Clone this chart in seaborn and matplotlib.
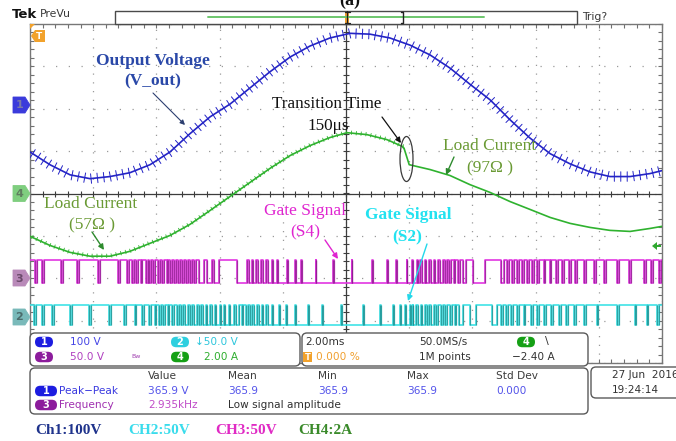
import numpy as np
import matplotlib
matplotlib.use("Agg")
import matplotlib.pyplot as plt
import seaborn as sns
from matplotlib import patheffects as pe
from matplotlib.patches import FancyBboxPatch, Polygon, Ellipse, Rectangle
from matplotlib.ticker import MultipleLocator

sns.set_style("white")
plt.rcParams["font.family"] = ["DejaVu Sans"]
SERIF = ["Liberation Serif", "DejaVu Serif"]

W, H = 676, 441

# vertical scale (units / division) and ground-marker position (divisions)
CH1_SCALE, CH1_POS = 100.0, 2.09    # V/div, output voltage
CH2_SCALE, CH2_POS = 50.0, -2.90    # V/div, gate S2
CH3_SCALE, CH3_POS = 50.0, -1.98    # V/div, gate S4
CH4_SCALE, CH4_POS = 2.0, 0.0       # A/div, load current

# Ch1: output voltage (ms, V)
vout_t = [-10.0, -9.37, -8.73, -8.10, -7.47, -6.84, -6.20, -5.57, -4.94, -4.30,
          -3.67, -3.04, -2.41, -1.77, -1.14, -0.51, 0.13, 0.76, 1.39, 2.03,
          2.66, 3.29, 3.92, 4.56, 5.19, 5.82, 6.46, 7.09, 7.72, 8.35,
          8.99, 9.62, 10.0]
vout_v = [-111, -141, -165, -174, -169, -160, -141, -111, -68, -28,
          2, 40, 78, 113, 139, 158, 169, 167, 158, 141,
          118, 87, 49, 12, -35, -78, -115, -139, -158, -169,
          -169, -162, -155]

# Ch4: load current (ms, A); load steps from 57 ohm to 97 ohm
iload_t = [-10.0, -9.37, -8.73, -8.10, -7.47, -6.84, -6.20, -5.57, -4.94, -4.30,
           -3.67, -3.04, -2.41, -1.77, -1.14, -0.51, 0.03, 0.66, 1.30, 1.80,
           1.84, 2.00, 2.66, 3.29, 3.92, 4.56, 5.19, 5.82, 6.46, 7.09,
           7.72, 8.35, 8.99, 9.62, 10.0]
iload_a = [-2.02, -2.45, -2.78, -2.96, -2.96, -2.73, -2.35, -1.98, -1.46, -0.80,
           -0.14, 0.52, 1.18, 1.79, 2.26, 2.64, 2.87, 2.78, 2.54, 2.21,
           2.12, 1.36, 1.13, 0.85, 0.42, 0.05, -0.38, -0.75, -1.13, -1.41,
           -1.60, -1.74, -1.79, -1.65, -1.55]
STEP_INDEX = 21   # first sample after the load step

# gate drive levels (V)
s4_hi, s4_lo = 20.0, -7.0
s2_hi, s2_lo = 13.0, -10.0

# S4 (Ch3): spans where the gate idles low, short off-pulses, short on-pulses (ms)
s4_low_spans = [(-4.65, -4.49), (-4.41, -4.24), (-4.19, -4.02), (-3.45, 3.80),
                (4.02, 4.40), (4.91, 5.00), (5.09, 5.16)]
s4_dips = [(-9.81, .04), (-9.59, .04), (-8.99, .04), (-8.48, .04), (-7.82, .04),
           (-7.18, .04), (-6.90, .04), (-6.74, .04), (-6.61, .04), (-6.46, .04),
           (-6.30, .04), (-6.20, .04), (-6.08, .04), (-5.92, .04), (-5.79, .04),
           (-5.66, .04), (-5.54, .05), (-5.41, .06), (-5.28, .06), (-5.16, .07),
           (-5.03, .08), (-4.91, .08), (-4.78, .09),
           (5.28, .07), (5.44, .06), (5.60, .06), (5.76, .05), (5.92, .05),
           (6.08, .04), (6.27, .04), (6.46, .04), (6.68, .04), (6.87, .04),
           (7.09, .04), (7.28, .04), (7.56, .04), (7.88, .04), (8.20, .04),
           (8.61, .04), (8.99, .04), (9.46, .04), (9.68, .04), (9.94, .04)]
s4_spikes = [(-3.10, .06), (-2.96, .05), (-2.82, .04), (-2.66, .04), (-2.50, .035),
             (-2.34, .03), (-2.18, .03), (-1.84, .03), (-1.61, .03), (-1.42, .03),
             (-0.95, .03), (-0.41, .03), (0.19, .03), (0.85, .03), (1.30, .03),
             (1.61, .03), (1.93, .03), (2.09, .03), (2.25, .03),
             (2.37, .04), (2.52, .045), (2.66, .05), (2.80, .06), (2.94, .065),
             (3.09, .07), (3.23, .075), (3.37, .08), (3.51, .09), (3.66, .095)]

# S2 (Ch2)
s2_low_spans = [(-3.48, 3.70), (3.92, 4.11), (4.62, 4.78)]
s2_dips = [(-9.84, .04), (-9.59, .04), (-9.27, .04), (-8.70, .04), (-8.10, .04),
           (-7.47, .04), (-6.99, .04), (-6.65, .04), (-6.42, .04), (-6.20, .04),
           (-6.04, .04), (-5.89, .04),
           (-5.76, .04), (-5.62, .05), (-5.47, .05), (-5.33, .06), (-5.19, .06),
           (-5.05, .07), (-4.91, .07), (-4.76, .08), (-4.62, .08), (-4.48, .09),
           (-4.34, .09), (-4.19, .10), (-4.05, .10), (-3.91, .11), (-3.77, .11),
           (-3.62, .12),
           (4.94, .08), (5.09, .065), (5.25, .05), (5.44, .045), (5.66, .04),
           (5.89, .04), (6.08, .04), (6.30, .04), (6.52, .04), (6.77, .04),
           (6.99, .04), (7.25, .04), (7.56, .04), (7.97, .04), (8.61, .04),
           (9.15, .04), (9.53, .04), (9.87, .04)]
s2_spikes = [(-3.35, .09), (-3.21, .08), (-3.07, .07), (-2.93, .06), (-2.78, .05),
             (-2.64, .04), (-2.50, .04), (-2.34, .03), (-2.09, .03), (-1.87, .03),
             (-1.61, .03), (-1.20, .03), (-0.73, .03), (-0.13, .03), (0.54, .03),
             (1.08, .03), (1.49, .03), (1.71, .03), (1.87, .03), (2.03, .03),
             (2.12, .03),
             (2.25, .04), (2.39, .045), (2.53, .05), (2.67, .06), (2.82, .06),
             (2.96, .07), (3.10, .08), (3.24, .08), (3.39, .09), (3.53, .10)]


def gate_trace(low_spans, dips, spikes, hi, lo):
    """Step vertices of a gate waveform built from its idle spans and pulses."""
    dip_iv = [(c - w / 2, c + w / 2) for c, w in dips]
    spk_iv = [(c - w / 2, c + w / 2) for c, w in spikes]
    edges = {-10.0, 10.0}
    for a, b in low_spans + dip_iv + spk_iv:
        edges.update((a, b))
    edges = sorted(e for e in edges if -10.0 <= e <= 10.0)

    def inside(t, spans):
        return any(a < t < b for a, b in spans)

    ts, ys, flips, prev = [], [], [], None
    for a, b in zip(edges[:-1], edges[1:]):
        m = 0.5 * (a + b)
        if inside(m, low_spans):
            lvl = hi if inside(m, spk_iv) else lo
        else:
            lvl = lo if inside(m, dip_iv) else hi
        if prev is not None and lvl != prev:
            flips.append(a)
        ts += [a, b]
        ys += [lvl, lvl]
        prev = lvl
    return ts, ys, flips


fig = plt.figure(figsize=(W / 100, H / 100), dpi=100)
fig.patch.set_facecolor("white")

# graticule: 10 x 8 divisions, 2 ms/div
ax = fig.add_axes([30 / W, 1 - 363 / H, 632 / W, 339 / H])
ax.set_xlim(-10, 10)
ax.set_ylim(-4, 4)
ax.xaxis.set_major_locator(MultipleLocator(2))
ax.xaxis.set_minor_locator(MultipleLocator(0.4))
ax.yaxis.set_major_locator(MultipleLocator(1))
ax.yaxis.set_minor_locator(MultipleLocator(0.2))
ax.tick_params(which="both", direction="in", top=True, right=True, bottom=True,
               left=True, length=3.2, width=0.8, color="#707070",
               labelbottom=False, labelleft=False)
for s in ax.spines.values():
    s.set_color("#777777")
    s.set_linewidth(1.0)
ax.set_axisbelow(True)
ax.grid(axis="x", which="major", color="#9a9a9a", lw=0.9, linestyle=(0, (1, 6.0)))
ax.grid(axis="y", which="major", color="#9a9a9a", lw=0.9, linestyle=(0, (1, 9.2)))
ax.axhline(0, color="#3c3c3c", lw=0.9, zorder=1)
ax.axvline(0, color="#3c3c3c", lw=0.9, zorder=1)
ax.plot(np.arange(-10, 10.01, 0.4), np.zeros(51), ls="none", marker="|",
        ms=4.5, mew=0.8, color="#3c3c3c", zorder=1)
ax.plot(np.zeros(41), np.arange(-4, 4.01, 0.2), ls="none", marker="_",
        ms=4.5, mew=0.8, color="#3c3c3c", zorder=1)

# gate signals
GATES = [
    (s4_low_spans, s4_dips, s4_spikes, s4_hi, s4_lo, CH3_SCALE, CH3_POS, "#e236e2", "#8e1e8e"),
    (s2_low_spans, s2_dips, s2_spikes, s2_hi, s2_lo, CH2_SCALE, CH2_POS, "#3fe3e6", "#1e8c8c"),
]
for spans, dips, spikes, hi, lo, scale, pos, col, dark in GATES:
    ts, ys, flips = gate_trace(spans, dips, spikes, hi, lo)
    yd = [v / scale + pos for v in ys]
    sns.lineplot(x=ts, y=yd, ax=ax, sort=False, estimator=None, color=col,
                 lw=1.2, zorder=3)
    ax.vlines(flips, lo / scale + pos, hi / scale + pos, colors=dark, lw=0.9,
              alpha=0.75, zorder=3.5)

# load current
i_div = [a / CH4_SCALE + CH4_POS for a in iload_a]
ripple_small = [pe.TickedStroke(spacing=3.5, angle=90, length=0.45, linewidth=0.6),
                pe.TickedStroke(spacing=3.5, angle=-90, length=0.3, linewidth=0.6),
                pe.Normal()]
sns.lineplot(x=iload_t[:STEP_INDEX], y=i_div[:STEP_INDEX], ax=ax, sort=False,
             estimator=None, color="#2fb22f", lw=1.2, zorder=4,
             path_effects=ripple_small)
sns.lineplot(x=iload_t[STEP_INDEX - 1:], y=i_div[STEP_INDEX - 1:], ax=ax, sort=False,
             estimator=None, color="#2fb22f", lw=1.2, zorder=4)

# output voltage
v_div = [v / CH1_SCALE + CH1_POS for v in vout_v]
ripple = [pe.TickedStroke(spacing=4.6, angle=90, length=0.75, linewidth=0.7),
          pe.TickedStroke(spacing=4.6, angle=-90, length=0.75, linewidth=0.7),
          pe.Normal()]
sns.lineplot(x=vout_t, y=v_div, ax=ax, sort=False, estimator=None,
             color="#2424c6", lw=1.2, zorder=5, path_effects=ripple)
ax.set_xlabel("")
ax.set_ylabel("")

# ---------- screen furniture drawn in pixel coordinates ----------
ov = fig.add_axes([0, 0, 1, 1], zorder=10)
ov.set_xlim(0, W)
ov.set_ylim(H, 0)
ov.axis("off")


def txt(x, y, s, color="#333333", size=7.6, ha="left", va="center", **kw):
    ov.text(x, y, s, color=color, fontsize=size, ha=ha, va=va, **kw)


def pill(cx, cy, label, color, w=18, h=10.5):
    ov.add_patch(FancyBboxPatch((cx - w / 2, cy - h / 2), w, h,
                                boxstyle=f"round,pad=0,rounding_size={h / 2}",
                                fc=color, ec="none"))
    txt(cx, cy + 0.3, label, color="white", size=7, ha="center", fontweight="bold")


def panel(x0, y0, x1, y1):
    ov.add_patch(FancyBboxPatch((x0, y0), x1 - x0, y1 - y0,
                                boxstyle="round,pad=0,rounding_size=5",
                                fc="white", ec="#5a5a5a", lw=1.0))


def flag(y, label, fc, tc):
    ov.add_patch(Polygon([(13, y - 8), (25, y - 8), (30, y), (25, y + 8), (13, y + 8)],
                         closed=True, fc=fc, ec=fc, lw=0.6))
    txt(19.5, y + 0.5, label, color=tc, size=8, ha="center", fontweight="bold")


# header
txt(12, 14, "Tek", color="#111111", size=9.5, fontweight="bold")
txt(40, 14, "PreVu", color="#3a3a3a", size=7.8)
ov.add_patch(Rectangle((115, 11), 462, 13, fc="white", ec="#4a4a4a", lw=1.0))
ov.plot([208, 484], [17, 17], color="#6cc66c", lw=1.4)
ov.add_patch(Rectangle((345, 12), 4, 11, fc="#f0a030", ec="none"))
ov.plot([347, 347], [11, 23], color="#222222", lw=0.9)
ov.plot([344.5, 349.5], [12, 12], color="#222222", lw=0.9)
ov.plot([344.5, 349.5], [22.5, 22.5], color="#222222", lw=0.9)
ov.plot([400.5, 403, 403, 400.5], [11.5, 11.5, 22.5, 22.5], color="#222222", lw=1.0)
txt(582, 17, "Trig?", color="#3a3a3a", size=7.8)
ov.text(350, 5, "(a)", fontsize=13, fontweight="bold", family=SERIF,
        ha="center", va="baseline", color="#111111")

# channel ground markers and trigger markers
ov.add_patch(Polygon([(31, 36), (35, 30), (45, 30), (45, 42), (35, 42)], closed=True,
                     fc="#f2a22c", ec="none"))
txt(39.5, 36.5, "T", color="white", size=6.5, ha="center", fontweight="bold")
ov.add_patch(Polygon([(30, 24), (35, 24), (30, 29)], closed=True, fc="#f2a22c", ec="none"))
flag(105, "1", "#3b3bdb", "#7a7aa8")
flag(193.5, "4", "#7fce7f", "#5f7d5f")
flag(278, "3", "#b98ab9", "#6b4b6b")
flag(317, "2", "#79b9b9", "#4b6b6b")
ov.add_patch(Polygon([(652, 246), (657, 242), (657, 245), (661, 245), (661, 247),
                      (657, 247), (657, 250)], closed=True, fc="#2fa82f", ec="none"))

# annotations
SER = dict(family=SERIF, ha="center", va="center")
ov.text(153, 61, "Output Voltage", fontsize=12.5, fontweight="bold", color="#2a48a8", **SER)
ov.text(153, 81, "(V_out)", fontsize=12.5, fontweight="bold", color="#2a48a8", **SER)
ov.annotate("", xy=(185, 125), xytext=(153, 93),
            arrowprops=dict(arrowstyle="-|>", color="#2c3e70", lw=0.8,
                            mutation_scale=7, shrinkA=0, shrinkB=0))
ov.text(327, 104, "Transition Time", fontsize=12.3, color="#111111", **SER)
ov.text(328, 126, "150μs", fontsize=12.3, color="#111111", **SER)
ov.annotate("", xy=(401, 143), xytext=(382, 117),
            arrowprops=dict(arrowstyle="-|>", color="#111111", lw=0.9,
                            mutation_scale=8, shrinkA=0, shrinkB=0))
ov.add_patch(Ellipse((406.5, 159), 13, 45, fc="none", ec="#3a3a3a", lw=0.9))

LOAD_C = "#6a9a34"
ov.text(490, 146, "Load Current", fontsize=12.5, color=LOAD_C, **SER)
ov.text(490, 168, "(97Ω )", fontsize=12.5, color=LOAD_C, **SER)
ov.annotate("", xy=(446, 175), xytext=(454, 157),
            arrowprops=dict(arrowstyle="-|>", color="#2e8b2e", lw=1.0,
                            mutation_scale=8, shrinkA=0, shrinkB=0))
ov.text(91, 204, "Load Current", fontsize=12.5, color=LOAD_C, **SER)
ov.text(92, 225, "(57Ω )", fontsize=12.5, color=LOAD_C, **SER)
ov.annotate("", xy=(104, 250), xytext=(92, 232),
            arrowprops=dict(arrowstyle="-|>", color="#2e8b2e", lw=1.0,
                            mutation_scale=8, shrinkA=0, shrinkB=0))
ov.text(305, 211, "Gate Signal", fontsize=12.5, color="#e024d0", **SER)
ov.text(305, 232, "(S4)", fontsize=12.5, color="#e024d0", **SER)
ov.annotate("", xy=(338, 259), xytext=(325, 240),
            arrowprops=dict(arrowstyle="-|>", color="#e024d0", lw=1.0,
                            mutation_scale=8, shrinkA=0, shrinkB=0))
ov.text(408, 215, "Gate Signal", fontsize=12.5, fontweight="bold", color="#22e2f0", **SER)
ov.text(407, 237, "(S2)", fontsize=12.5, fontweight="bold", color="#22e2f0", **SER)
ov.annotate("", xy=(408, 301), xytext=(427, 244),
            arrowprops=dict(arrowstyle="-|>", color="#22d8ea", lw=1.0,
                            mutation_scale=8, shrinkA=0, shrinkB=0))

# channel settings panel
panel(30, 333, 300, 366)
pill(44, 342, "1", "#1c1ce0")
txt(70, 342, "100 V", color="#4646e6")
pill(180, 342, "2", "#2ecfdf")
txt(195, 342, "↓50.0 V", color="#2ec6dc")
pill(44, 357, "3", "#8c1c9c")
txt(70, 357, "50.0 V", color="#b040c0")
txt(131, 357, "Bw", color="#a040b0", size=4.5)
pill(180, 357, "4", "#15a015")
txt(204, 357, "2.00 A", color="#2eae2e")

# timebase / trigger panel
panel(302, 333, 588, 366)
txt(305, 342, "2.00ms")
txt(419, 342, "50.0MS/s")
pill(526, 342, "4", "#15a015")
txt(545, 341, "\\", size=8)
ov.add_patch(Rectangle((303, 352), 9, 10, fc="#f2a22c", ec="none"))
txt(307.5, 357.5, "T", color="white", size=6, ha="center", fontweight="bold")
txt(316, 357, "0.000 %", color="#f0a030")
txt(419, 357, "1M points")
txt(512, 357, "−2.40 A")

# measurement panel
panel(30, 368, 588, 414)
for x, s in [(148, "Value"), (228, "Mean"), (318, "Min"), (407, "Max"), (496, "Std Dev")]:
    txt(x, 376, s, color="#3c3c3c")
pill(46, 391, "1", "#1c1ce0", w=22)
txt(59, 391, "Peak−Peak", color="#3a3ae0")
MEAS_BLUE = "#5454ea"
for x, s in [(148, "365.9 V"), (228, "365.9"), (318, "365.9"), (407, "365.9"), (496, "0.000")]:
    txt(x, 391, s, color=MEAS_BLUE)
pill(46, 405, "3", "#8c1c9c", w=22)
txt(59, 405, "Frequency", color="#a030b0")
txt(148, 405, "2.935kHz", color="#c04cc8")
txt(228, 405, "Low signal amplitude", color="#303030")

# date panel
panel(591, 367, 690, 398)
txt(612, 375, "27 Jun  2016")
txt(612, 390, "19:24:14")

# channel legend line
for x, s, c in [(35, "Ch1:100V", "#1f338c"), (128, "CH2:50V", "#3adcec"),
                (215, "CH3:50V", "#e02ac4"), (298, "CH4:2A", "#3a8a2a")]:
    ov.text(x, 431, s, fontsize=11, fontweight="bold", family=SERIF, color=c,
            ha="left", va="center")

fig.savefig("out.png", dpi=100, facecolor="white")
